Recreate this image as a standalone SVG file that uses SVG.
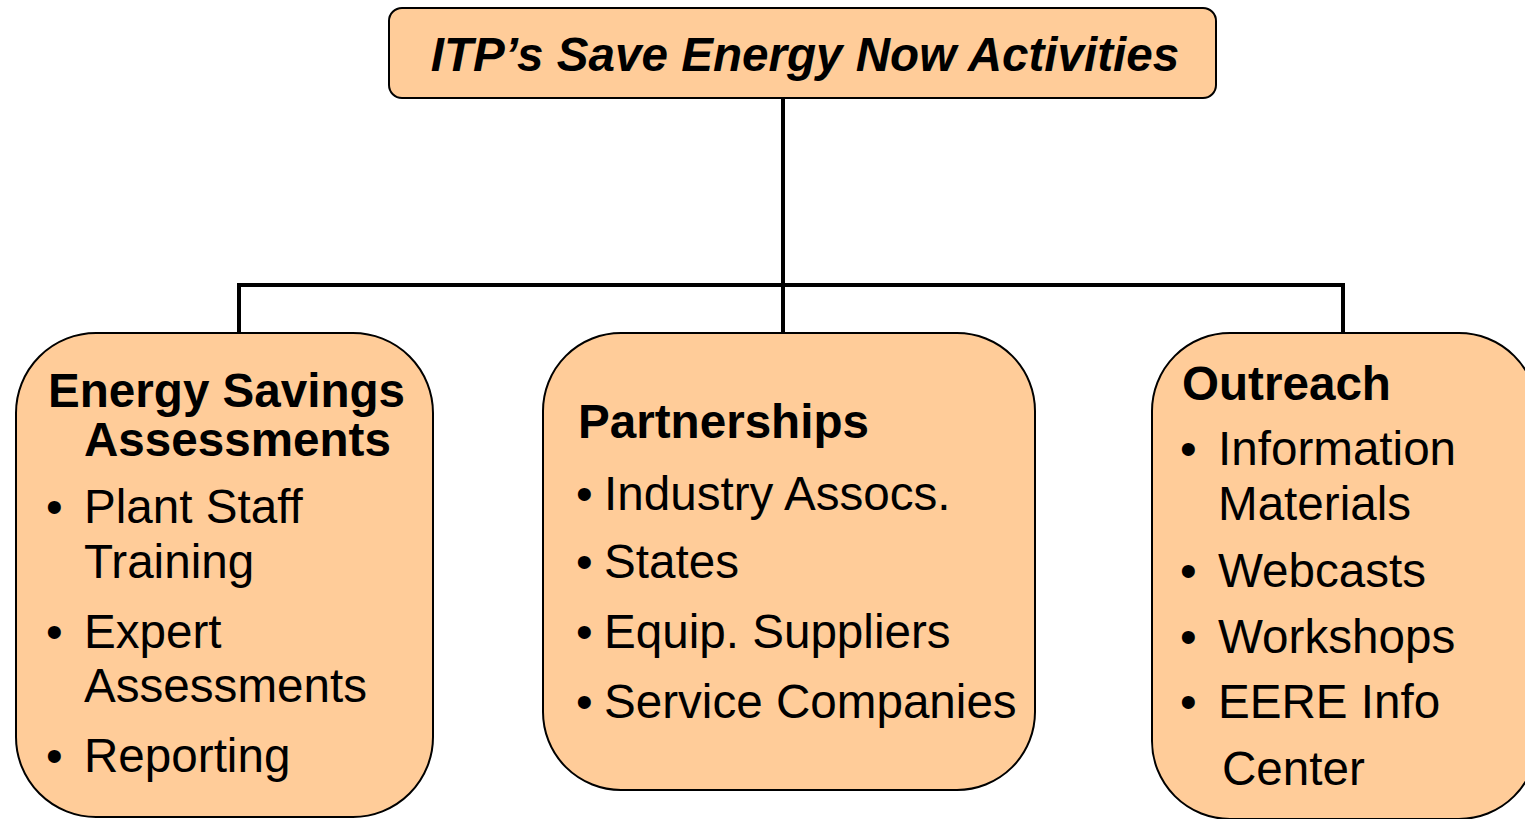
<svg xmlns="http://www.w3.org/2000/svg" width="1525" height="819" viewBox="0 0 1525 819">
<style>
.box{fill:#FFCC99;stroke:#000;stroke-width:2}
.t{font-family:"Liberation Sans",Arial,sans-serif;font-size:47.6px;fill:#000}
.b{font-weight:bold}
.conn{stroke:#000;stroke-width:4;fill:none}
</style>
<rect width="1525" height="819" fill="#fff"/>
<g id="connectors">
<path class="conn" d="M783,98 V333 M239,333 V285 H1343 V333"/>
</g>
<g id="root">
<rect class="box" x="389" y="8" width="827" height="90" rx="13"/>
<text class="t b" x="805" y="71" text-anchor="middle" font-style="italic" font-size="48.2">ITP’s Save Energy Now Activities</text>
</g>
<g id="assessments">
<rect class="box" x="16" y="333" width="417" height="484" rx="80"/>
<text class="t b" x="48" y="407">Energy Savings</text>
<text class="t b" x="84" y="456">Assessments</text>
<text class="t" x="46" y="523">•</text>
<text class="t" x="84" y="523">Plant Staff</text>
<text class="t" x="84" y="578">Training</text>
<text class="t" x="46" y="648">•</text>
<text class="t" x="84" y="648">Expert</text>
<text class="t" x="84" y="702">Assessments</text>
<text class="t" x="46" y="772">•</text>
<text class="t" x="84" y="772">Reporting</text>
</g>
<g id="partnerships">
<rect class="box" x="543" y="333" width="492" height="457" rx="78"/>
<text class="t b" x="578" y="438">Partnerships</text>
<text class="t" x="576" y="510">•</text>
<text class="t" x="604" y="510">Industry Assocs.</text>
<text class="t" x="576" y="578">•</text>
<text class="t" x="604" y="578">States</text>
<text class="t" x="576" y="648">•</text>
<text class="t" x="604" y="648">Equip. Suppliers</text>
<text class="t" x="576" y="718">•</text>
<text class="t" x="604" y="718">Service Companies</text>
</g>
<g id="outreach">
<rect class="box" x="1152" y="333" width="385" height="486" rx="78"/>
<text class="t b" x="1182" y="400">Outreach</text>
<text class="t" x="1180" y="465">•</text>
<text class="t" x="1218" y="465">Information</text>
<text class="t" x="1218" y="520">Materials</text>
<text class="t" x="1180" y="587">•</text>
<text class="t" x="1218" y="587">Webcasts</text>
<text class="t" x="1180" y="653">•</text>
<text class="t" x="1218" y="653">Workshops</text>
<text class="t" x="1180" y="718">•</text>
<text class="t" x="1218" y="718">EERE Info</text>
<text class="t" x="1222" y="785">Center</text>
</g>
</svg>
